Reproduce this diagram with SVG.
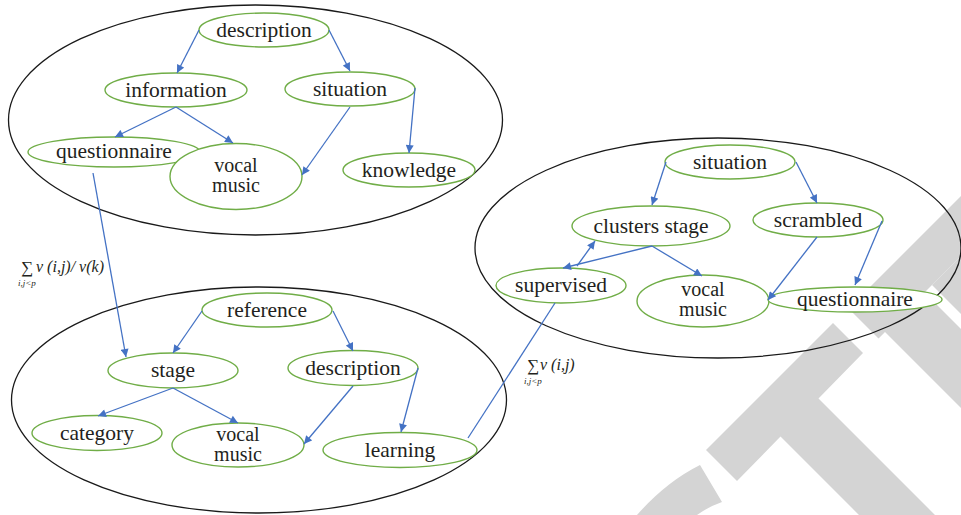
<svg xmlns="http://www.w3.org/2000/svg" width="961" height="515" viewBox="0 0 961 515">
<defs>
<marker id="ah" viewBox="0 0 10 10" refX="10" refY="5" markerWidth="9" markerHeight="8" markerUnits="userSpaceOnUse" orient="auto">
<path d="M0,0 L10,5 L0,10 Z" fill="#4472C4"/>
</marker>
<style>
.wm{fill:#d4d4d4;stroke:none}
.grp{fill:none;stroke:#1a1a1a;stroke-width:1.3}
.nd{fill:#ffffff;stroke:#70AD47;stroke-width:1.4}
.lb{font-family:"Liberation Serif","DejaVu Serif",serif;font-size:21.5px;fill:#231f20;text-anchor:middle}
.lb2{font-size:20px}
.cn{stroke:#4472C4;stroke-width:1.3;fill:none}
.cn line.a{marker-end:url(#ah)}
.fm{font-family:"Liberation Serif","DejaVu Serif",serif;fill:#231f20}
</style>
</defs>
<rect width="961" height="515" fill="#ffffff"/>
<g id="watermark">
<polygon class="wm" points="706,450 833,323 863,353 818.5,398.5 1018.5,598.5 980.5,636.5 780.5,436.5 737,481"/>
<polygon class="wm" points="848.5,308.5 878.5,338.5 885,332 1085,532 1124.5,492.5 924.5,292.5 1100,117 1040,117"/>
<polygon class="wm" points="932,285 1132,85 1250,200 1250,603"/>
<path class="wm" d="M700,465 Q666,482 637,515 L697,515 Q708,507 722,502 Z"/>
</g>
<g id="groups">
<ellipse class="grp" cx="255.5" cy="120" rx="247" ry="115"/>
<ellipse class="grp" cx="259" cy="400" rx="247.5" ry="113"/>
<ellipse class="grp" cx="718" cy="248" rx="243" ry="110"/>
</g>
<g id="t_description"><ellipse class="nd" cx="264" cy="30" rx="65" ry="17"/><text class="lb" x="264" y="36.5">description</text></g>
<g id="t_information"><ellipse class="nd" cx="176" cy="90" rx="71" ry="17"/><text class="lb" x="176" y="96.5">information</text></g>
<g id="t_situation"><ellipse class="nd" cx="350" cy="89" rx="65" ry="17"/><text class="lb" x="350" y="95.5">situation</text></g>
<g id="t_questionnaire"><ellipse class="nd" cx="114" cy="152" rx="86" ry="15"/><text class="lb" x="114" y="158">questionnaire</text></g>
<g id="t_vocal"><ellipse class="nd" cx="236" cy="176.5" rx="66" ry="33"/><text class="lb lb2" x="236" y="171.5">vocal</text><text class="lb lb2" x="236" y="191.5">music</text></g>
<g id="t_knowledge"><ellipse class="nd" cx="409" cy="170" rx="66" ry="17"/><text class="lb" x="409" y="176.5">knowledge</text></g>
<g id="b_reference"><ellipse class="nd" cx="267" cy="310" rx="65" ry="17"/><text class="lb" x="267" y="316.5">reference</text></g>
<g id="b_stage"><ellipse class="nd" cx="173" cy="370.5" rx="65" ry="17.5"/><text class="lb" x="173" y="377">stage</text></g>
<g id="b_description"><ellipse class="nd" cx="353" cy="368" rx="65" ry="17.5"/><text class="lb" x="353" y="374.5">description</text></g>
<g id="b_category"><ellipse class="nd" cx="97" cy="433" rx="65" ry="17.5"/><text class="lb" x="97" y="439.5">category</text></g>
<g id="b_vocal"><ellipse class="nd" cx="238" cy="445" rx="66" ry="22"/><text class="lb lb2" x="238" y="441">vocal</text><text class="lb lb2" x="238" y="461">music</text></g>
<g id="b_learning"><ellipse class="nd" cx="400" cy="450" rx="77" ry="17.5"/><text class="lb" x="400" y="456.5">learning</text></g>
<g id="r_situation"><ellipse class="nd" cx="730" cy="162" rx="65" ry="17"/><text class="lb" x="730" y="168.5">situation</text></g>
<g id="r_clusters"><ellipse class="nd" cx="651" cy="226" rx="79" ry="20"/><text class="lb" x="651" y="232.5">clusters stage</text></g>
<g id="r_scrambled"><ellipse class="nd" cx="818" cy="220" rx="65" ry="17"/><text class="lb" x="818" y="226.5">scrambled</text></g>
<g id="r_supervised"><ellipse class="nd" cx="561" cy="285.5" rx="65" ry="17.5"/><text class="lb" x="561" y="292">supervised</text></g>
<g id="r_vocal"><ellipse class="nd" cx="703" cy="301" rx="66" ry="26"/><text class="lb lb2" x="703" y="295.5">vocal</text><text class="lb lb2" x="703" y="315.5">music</text></g>
<g id="r_questionnaire"><ellipse class="nd" cx="855" cy="299.5" rx="87" ry="12.5"/><text class="lb" x="855" y="306">questionnaire</text></g>
<g id="connectors" class="cn">
<line class="a" x1="199" y1="30" x2="177" y2="73"/>
<line class="a" x1="329" y1="30" x2="350" y2="71"/>
<line class="a" x1="176" y1="107" x2="115" y2="137"/>
<line class="a" x1="176" y1="107" x2="233" y2="143"/>
<line class="a" x1="350" y1="107" x2="302" y2="175"/>
<line class="a" x1="415" y1="88" x2="409" y2="153"/>
<line class="a" x1="93" y1="173" x2="126" y2="357"/>
<line class="a" x1="202" y1="311" x2="173" y2="353"/>
<line class="a" x1="333" y1="311" x2="353" y2="351"/>
<line class="a" x1="173" y1="388" x2="98" y2="416"/>
<line class="a" x1="173" y1="388" x2="238" y2="423"/>
<line class="a" x1="353" y1="386" x2="304" y2="444"/>
<line class="a" x1="418" y1="368" x2="401" y2="432"/>
<line x1="468" y1="438" x2="555" y2="303"/>
<line class="a" x1="666" y1="162" x2="652" y2="205"/>
<line class="a" x1="796" y1="162" x2="817" y2="203"/>
<line class="a" x1="652" y1="246" x2="563" y2="268"/>
<line class="a" x1="652" y1="246" x2="702" y2="276"/>
<line class="a" x1="577" y1="266" x2="595" y2="241"/>
<line class="a" x1="817" y1="237" x2="768" y2="300"/>
<line class="a" x1="882" y1="221" x2="855" y2="285"/>
</g>
<g id="formula1" class="fm">
<text x="21" y="273" font-size="17">∑</text>
<text x="36" y="272" font-size="16" font-style="italic">ν (i,j)/ ν(k)</text>
<text x="18" y="286" font-size="9" font-style="italic">i,j&lt;p</text>
</g>
<g id="formula2" class="fm">
<text x="527" y="371" font-size="17">∑</text>
<text x="540" y="370" font-size="16" font-style="italic">ν (i,j)</text>
<text x="524" y="384" font-size="9" font-style="italic">i,j&lt;p</text>
</g>
</svg>
